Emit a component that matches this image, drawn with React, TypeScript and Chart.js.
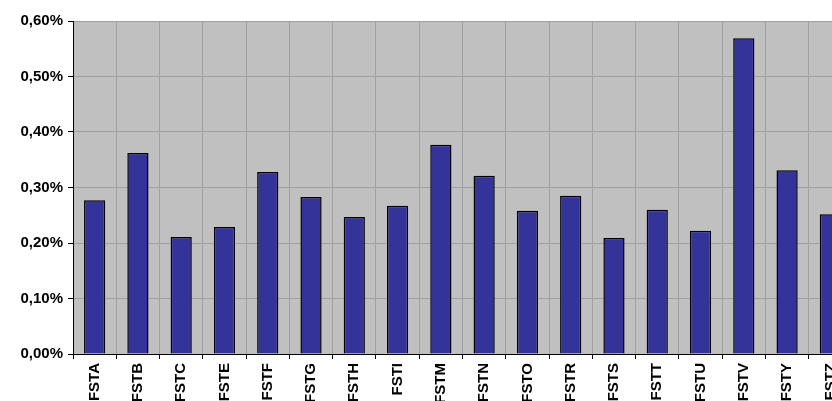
import React, { useEffect, useRef } from "react";
import { Chart, registerables } from "chart.js";

Chart.register(...registerables);

const categories = ["FSTA", "FSTB", "FSTC", "FSTE", "FSTF", "FSTG", "FSTH", "FSTI", "FSTM", "FSTN", "FSTO", "FSTR", "FSTS", "FSTT", "FSTU", "FSTV", "FSTY", "FSTZ"];
const values = [0.277, 0.362, 0.211, 0.229, 0.328, 0.283, 0.247, 0.267, 0.377, 0.321, 0.258, 0.285, 0.209, 0.260, 0.222, 0.569, 0.331, 0.252];
const yTicks = [0, 0.1, 0.2, 0.3, 0.4, 0.5, 0.6];

const CW = 870;
const CH = 440;

const plotBg = {
  id: "plotBg",
  beforeDraw(chart: any) {
    const { ctx, chartArea } = chart;
    ctx.save();
    ctx.fillStyle = "#c0c0c0";
    ctx.fillRect(chartArea.left, chartArea.top, chartArea.right - chartArea.left, chartArea.bottom - chartArea.top);
    ctx.restore();
  },
};

export default function App() {
  const ref = useRef<HTMLCanvasElement>(null);
  useEffect(() => {
    const font = { family: "'Liberation Sans', Arial, sans-serif", size: 15, weight: "bold" as const };
    const chart = new Chart(ref.current!, {
      type: "bar",
      data: {
        labels: categories,
        datasets: [
          {
            data: values,
            backgroundColor: "#333399",
            borderColor: "#000000",
            borderWidth: 1.5,
            barPercentage: 0.49,
            categoryPercentage: 1,
          },
        ],
      },
      options: {
        responsive: false,
        animation: false,
        devicePixelRatio: 1,
        layout: { padding: { top: 21, left: 0, right: CW - 852, bottom: 0 } },
        plugins: { legend: { display: false }, tooltip: { enabled: false } },
        scales: {
          x: {
            grid: { color: "#a0a0a0", tickColor: "#000000", tickLength: 5, lineWidth: 1 },
            border: { color: "#000000", width: 1 },
            ticks: { color: "#000000", font, minRotation: 90, maxRotation: 90, padding: 4, autoSkip: false },
            afterFit: (s: any) => {
              s.height = CH - 354;
            },
          },
          y: {
            min: 0,
            max: 0.6,
            afterBuildTicks: (s: any) => {
              s.ticks = yTicks.map((v) => ({ value: v }));
            },
            grid: { color: "#a0a0a0", tickColor: "#000000", tickLength: 5, lineWidth: 1 },
            border: { color: "#000000", width: 1 },
            ticks: {
              color: "#000000",
              font,
              padding: 5,
              callback: (v: any) => Number(v).toFixed(2).replace(".", ",") + "%",
            },
            afterFit: (s: any) => {
              s.width = 73;
            },
          },
        },
      },
      plugins: [plotBg],
    });
    return () => chart.destroy();
  }, []);
  return (
    <div style={{ position: "fixed", left: 0, top: 0, width: 832, height: 401, overflow: "hidden", background: "#fff" }}>
      <canvas ref={ref} width={CW} height={CH} style={{ width: CW, height: CH, display: "block" }} />
    </div>
  );
}
